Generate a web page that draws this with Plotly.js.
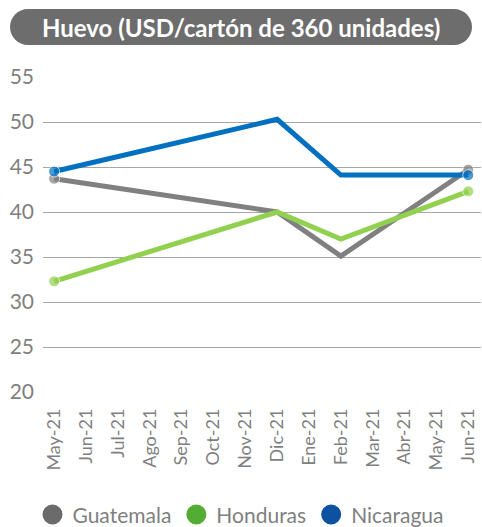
<!DOCTYPE html>
<html>
<head>
<meta charset="utf-8">
<script src="https://cdn.plot.ly/plotly-3.0.1.min.js"></script>
<style>html,body{margin:0;padding:0;background:#fff;}#chart{width:482px;height:527px;}</style>
</head>
<body>
<div id="chart"></div>
<script>
// Month tick labels (as printed in the source chart)
const months = ['May-21','Jun-21','Jul-21','Ago-21','Sep-21','Oct-21','Nov-21','Dic-21','Ene-21','Feb-21','Mar-21','Abr-21','May-21','Jun-21'];
// Positions (index into months) where observations exist
const obsIdx = [0, 7, 9, 13];
// Series values (USD per 360-egg carton)
const guatemala = [43.7, 40.0, 35.1, 44.7];
const honduras  = [32.3, 40.0, 37.0, 42.3];
const nicaragua = [44.5, 50.3, 44.1, 44.1];
const seriesNames = ['Guatemala', 'Honduras', 'Nicaragua'];
const yTicks = [20, 25, 30, 35, 40, 45, 50, 55];

const lineColors = ['#808080', '#92d050', '#0070c0'];
const legendColors = ['#6b6b6b', '#52ad32', '#0d52a0'];
const values = [guatemala, honduras, nicaragua];

const markerSizes = obsIdx.map((_, i) => (i === 0 || i === obsIdx.length - 1) ? 11 : 0);

const traces = [];
values.forEach((v, k) => {
  traces.push({
    type: 'scatter', mode: 'lines+markers', x: obsIdx, y: v, name: seriesNames[k],
    line: {color: lineColors[k], width: 5}, marker: {color: lineColors[k], size: markerSizes},
    showlegend: false, hoverinfo: 'skip'
  });
});
values.forEach((v, k) => {
  traces.push({
    type: 'scatter', mode: 'markers', x: [null], y: [null], name: seriesNames[k],
    marker: {color: legendColors[k], size: 20, symbol: 'circle', line: {color: legendColors[k], width: 4}},
    showlegend: true
  });
});

const r = 18, k9 = 9.94;
const L = -33, R = 429, T = 68, B = 32, C = 50;
const path = `M ${L+r} ${T} L ${R-r} ${T} C ${R-r+k9} ${T} ${R} ${C+k9} ${R} ${C} C ${R} ${C-k9} ${R-r+k9} ${B} ${R-r} ${B} L ${L+r} ${B} C ${L+r-k9} ${B} ${L} ${C-k9} ${L} ${C} C ${L} ${C+k9} ${L+r-k9} ${T} ${L+r} ${T} Z`;

const layout = {
  width: 482, height: 527,
  margin: {l: 43, r: 1, t: 77, b: 135, autoexpand: false},
  paper_bgcolor: '#ffffff', plot_bgcolor: '#ffffff',
  font: {family: 'Lato, "Open Sans", sans-serif', color: '#7f7f7f'},
  xaxis: {
    range: [-0.35, 13.4], tickmode: 'array', tickvals: months.map((_, i) => i), ticktext: months,
    tickangle: -90, showgrid: false, zeroline: false, showline: false, ticks: '',
    tickfont: {size: 18, color: '#7f7f7f'}, ticklabelstandoff: 12, fixedrange: true
  },
  yaxis: {
    range: [20, 55], tickmode: 'array', tickvals: yTicks, showgrid: true, gridcolor: '#a6a6a6', gridwidth: 1,
    zeroline: false, showline: false, ticks: '', tickfont: {size: 21, color: '#7f7f7f'},
    ticklabelstandoff: 8, fixedrange: true
  },
  legend: {
    orientation: 'h', x: 0.5, xref: 'container', xanchor: 'center', y: 0.023, yref: 'container', yanchor: 'middle',
    font: {size: 21, color: '#7f7f7f'}, itemclick: false, itemdoubleclick: false, tracegroupgap: 0
  },
  shapes: [{
    type: 'path', xref: 'paper', yref: 'paper', xsizemode: 'pixel', ysizemode: 'pixel',
    xanchor: 0, yanchor: 1, path: path, fillcolor: '#6d6d6d', line: {width: 0}, layer: 'above'
  }],
  annotations: [{
    xref: 'paper', yref: 'paper', x: 0.452, y: 1.1587, xanchor: 'center', yanchor: 'middle',
    text: '<b>Huevo (USD/cartón de 360 unidades)</b>', showarrow: false,
    font: {size: 24, color: '#ffffff', family: 'Lato, "Open Sans", sans-serif'}
  }],
  showlegend: true
};

Plotly.newPlot('chart', traces, layout, {displayModeBar: false});
</script>
</body>
</html>
